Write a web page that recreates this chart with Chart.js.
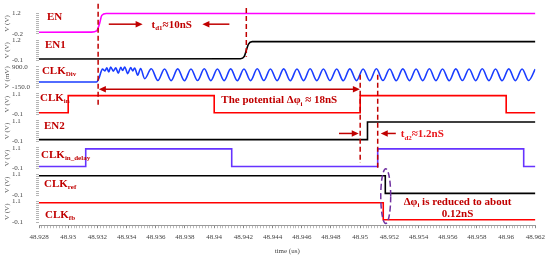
<!DOCTYPE html>
<html><head><meta charset="utf-8">
<script src="https://cdn.jsdelivr.net/npm/chart.js@4.4.0/dist/chart.umd.min.js"></script>
<style>html,body{margin:0;padding:0;background:#fff;overflow:hidden}</style>
</head><body>
<canvas id="c" width="550" height="256"></canvas>
<script>
// ---------- axes / tick labels ----------
const T0 = 48.928, T1 = 48.962;
const xTickLabels = ['48.928','48.93','48.932','48.934','48.936','48.938','48.94','48.942','48.944','48.946','48.948','48.95','48.952','48.954','48.956','48.958','48.96','48.962'];
const panelIds  = ['yFB','yREF','yDLY','yEN2','yIN','yDIV','yEN1','yEN']; // bottom -> top
const panelLo   = [-0.1,-0.1,-0.1,-0.1,-0.1,-150,-0.1,-0.2];
const panelHi   = [1.1, 1.1, 1.1, 1.1, 1.1, 900, 1.2, 1.2];
const panelUnit = ['V (V)','V (V)','V (V)','V (V)','V (V)','V (mV)','V (V)','V (V)'];

// ---------- series ----------
const enT = [48.928, 48.9316, 48.93195, 48.93215, 48.9323, 48.9326, 48.962];
const enV = [-0.1, -0.09, 0.0, 0.5, 1.05, 1.18, 1.18];

const en1T = [48.928, 48.9418, 48.94205, 48.9422, 48.94235, 48.9426, 48.962];
const en1V = [0.0, 0.02, 0.15, 0.55, 0.95, 1.1, 1.1];

const divT = [48.928, 48.93195, 48.9321, 48.93235,
  48.93251, 48.93265, 48.93278, 48.93291, 48.93309, 48.93326, 48.93343, 48.93360, 48.93373, 48.93387,
  48.93408, 48.93428, 48.93442, 48.93455, 48.93476, 48.93496, 48.93524,
  48.93569, 48.93614, 48.93660, 48.93705, 48.93750, 48.93796, 48.93841, 48.93886, 48.93932, 48.93977,
  48.94022, 48.94068, 48.94113, 48.94158, 48.94204, 48.94249, 48.94295, 48.94340, 48.94385, 48.94431,
  48.94476, 48.94521, 48.94567, 48.94612, 48.94657, 48.94703, 48.94748, 48.94793, 48.94839, 48.94884,
  48.94929, 48.94975, 48.95020, 48.95065, 48.95111, 48.95156, 48.95202, 48.95247, 48.95292, 48.95338,
  48.95383, 48.95428, 48.95474, 48.95519, 48.95564, 48.95610, 48.95655, 48.95700, 48.95746, 48.95791,
  48.95836, 48.95882, 48.95927, 48.95972, 48.96018, 48.96063, 48.96109, 48.96154, 48.96199];
const divV = [130, 130, 320, 790,
  700, 860, 640, 900, 690, 860, 580, 880, 720, 900,
  560, 870, 700, 850, 480, 820, 300,
  810, 210, 800, 200, 805, 195, 800, 205, 810, 200,
  800, 200, 805, 195, 800, 200, 810, 205, 800, 200,
  805, 195, 800, 200, 810, 200, 800, 205, 800, 195,
  805, 200, 800, 200, 810, 205, 800, 195, 805, 200,
  800, 200, 810, 200, 800, 195, 805, 205, 800, 200,
  810, 200, 800, 195, 805, 200, 800, 205, 790];

const inT  = [48.928, 48.930, 48.940, 48.950, 48.960, 48.962];
const inV  = [0.0, 1.0, 0.0, 1.0, 0.0, 0.0];

const en2T = [48.928, 48.9505, 48.962];
const en2V = [0.0, 1.03, 1.03];

const dlyT = [48.928, 48.9312, 48.9412, 48.9512, 48.9612, 48.962];
const dlyV = [0.0, 1.03, 0.0, 1.03, 0.0, 0.0];

const refT = [48.928, 48.95172, 48.962];
const refV = [1.03, 0.0, 0.0];

const fbT  = [48.928, 48.95158, 48.962];
const fbV  = [1.03, 0.03, 0.03];

// ---------- labels / annotations ----------
const seriesLabels = [
  {id:'yEN',  t:48.92855, v:1.0,  parts:[['EN',0]]},
  {id:'yEN1', t:48.92841, v:0.92, parts:[['EN1',0]]},
  {id:'yDIV', t:48.9282,  v:750,  parts:[['CLK',0],['Div',1]]},
  {id:'yIN',  t:48.92807, v:0.9,  parts:[['CLK',0],['in',1]]},
  {id:'yEN2', t:48.92834, v:0.81, parts:[['EN2',0]]},
  {id:'yDLY', t:48.92814, v:0.73, parts:[['CLK',0],['in_delay',1]]},
  {id:'yREF', t:48.92834, v:0.59, parts:[['CLK',0],['ref',1]]},
  {id:'yFB',  t:48.92841, v:0.36, parts:[['CLK',0],['fb',1]]}
];

const pts = (t, v) => t.map((x, i) => ({x: x, y: v[i]}));
const SERIF = '"Liberation Serif", "Times New Roman", serif';
const DARKRED = '#c00000';

function drawRich(ctx, parts, x, yc, size, color, align) {
  const main = 'bold ' + size + 'px ' + SERIF;
  const sub = 'bold ' + Math.round(size * 0.66) + 'px ' + SERIF;
  let w = 0;
  for (const [s, isSub] of parts) { ctx.font = isSub ? sub : main; w += ctx.measureText(s).width; }
  let cx = align === 'center' ? x - w / 2 : x;
  const base = yc + size * 0.34;
  ctx.fillStyle = color; ctx.textAlign = 'left'; ctx.textBaseline = 'alphabetic';
  for (const [s, isSub] of parts) {
    ctx.font = isSub ? sub : main;
    ctx.fillText(s, cx, isSub ? base + size * 0.22 : base);
    cx += ctx.measureText(s).width;
  }
}
function head(ctx, x, y, dir) {
  ctx.beginPath();
  ctx.moveTo(x, y);
  ctx.lineTo(x - dir * 7, y - 3.2);
  ctx.lineTo(x - dir * 7, y + 3.2);
  ctx.closePath(); ctx.fill();
}
function arrow(ctx, x1, y, x2, color, both) {
  const dir = Math.sign(x2 - x1);
  ctx.save();
  ctx.strokeStyle = color; ctx.fillStyle = color; ctx.lineWidth = 1.5; ctx.setLineDash([]);
  ctx.beginPath(); ctx.moveTo(both ? x1 + dir * 5 : x1, y); ctx.lineTo(x2 - dir * 5, y); ctx.stroke();
  head(ctx, x2, y, dir);
  if (both) head(ctx, x1, y, -dir);
  ctx.restore();
}
function vdash(ctx, x, y1, y2, color) {
  ctx.save();
  ctx.strokeStyle = color; ctx.lineWidth = 1.5; ctx.setLineDash([5, 3]);
  ctx.beginPath(); ctx.moveTo(x, y1); ctx.lineTo(x, y2); ctx.stroke();
  ctx.restore();
}

const annot = {
  id: 'annot',
  afterDatasetsDraw(chart) {
    const ctx = chart.ctx;
    const X = t => chart.scales.x.getPixelForValue(t);
    const Y = (id, v) => chart.scales[id].getPixelForValue(v);

    // y-axis unit titles
    ctx.save();
    ctx.fillStyle = '#555'; ctx.font = '7px ' + SERIF; ctx.textAlign = 'center'; ctx.textBaseline = 'middle';
    panelIds.forEach((id, i) => {
      const cy = (Y(id, panelLo[i]) + Y(id, panelHi[i])) / 2;
      ctx.save(); ctx.translate(7, cy); ctx.rotate(-Math.PI / 2); ctx.fillText(panelUnit[i], 0, 0); ctx.restore();
    });
    ctx.restore();

    // series labels
    seriesLabels.forEach(l => drawRich(ctx, l.parts, X(l.t), Y(l.id, l.v), 11, DARKRED, 'left'));

    // vertical dashed markers
    vdash(ctx, X(48.93205), Y('yEN', 1.85), Y('yIN', 0.35), DARKRED);
    vdash(ctx, X(48.9422),  Y('yEN', 1.55), Y('yEN1', 0.15), DARKRED);
    vdash(ctx, X(48.9500),  Y('yDIV', 500), Y('yDLY', 0.2), DARKRED);
    vdash(ctx, X(48.9512),  Y('yDIV', 500), Y('yDLY', -0.15), DARKRED);

    // td1
    const yA = Y('yEN', 0.45);
    arrow(ctx, X(48.93278), yA, X(48.93510), DARKRED, false);
    arrow(ctx, X(48.94104), yA, X(48.93919), DARKRED, false);
    drawRich(ctx, [['t',0],['d1',1],['\u224810nS',0]], X(48.93571), yA, 11, DARKRED, 'left');

    // potential
    arrow(ctx, X(48.93210), Y('yIN', 1.37), X(48.94998), DARKRED, true);
    drawRich(ctx, [['The potential \u0394\u03c6',0],['i',1],[' \u2248 18nS',0]], X(48.94049), Y('yIN', 0.76), 11, DARKRED, 'left');

    // td2
    const yB = Y('yEN2', 0.36);
    arrow(ctx, X(48.94855), yB, X(48.94990), DARKRED, false);
    arrow(ctx, X(48.95244), yB, X(48.95141), DARKRED, false);
    drawRich(ctx, [['t',0],['d2',1],['\u22481.2nS',0]], X(48.95278), yB, 11, '#e8161b', 'left');

    // ellipse
    const ey1 = Y('yREF', 1.44), ey2 = Y('yFB', -0.19);
    const ex1 = X(48.95141), ex2 = X(48.95209);
    ctx.save();
    ctx.strokeStyle = '#7030a0'; ctx.lineWidth = 1.5; ctx.setLineDash([6, 3]);
    ctx.beginPath(); ctx.ellipse((ex1 + ex2) / 2, (ey1 + ey2) / 2, (ex2 - ex1) / 2, (ey2 - ey1) / 2, 0, 0, Math.PI * 2); ctx.stroke();
    ctx.restore();

    drawRich(ctx, [['\u0394\u03c6',0],['i',1],[' is reduced to about',0]], X(48.95667), Y('yFB', 1.13), 11, DARKRED, 'center');
    drawRich(ctx, [['0.12nS',0]], X(48.95667), Y('yFB', 0.39), 11, DARKRED, 'center');
  }
};

// ---------- scales ----------
const PAD = 0.155;
const scales = {
  x: {
    type: 'linear', position: 'bottom', min: T0, max: T1,
    afterBuildTicks: s => { const a = []; for (let i = 0; i <= 170; i++) a.push({value: T0 + i * 0.0002}); s.ticks = a; },
    ticks: {autoSkip: false, maxRotation: 0, minRotation: 0, padding: 5, color: '#444',
      font: {family: SERIF, size: 7},
      callback: (v, i) => (i % 10 === 0 ? xTickLabels[i / 10] : '')},
    grid: {drawOnChartArea: false, drawTicks: true, tickLength: 3,
      tickColor: c => (c.index % 10 === 0 ? '#666' : '#aaa'), tickWidth: 0.8},
    border: {display: true, color: '#999', width: 1},
    title: {display: true, text: 'time (us)', color: '#444', font: {family: SERIF, size: 7}, padding: {top: 0, bottom: 1}}
  }
};
panelIds.forEach((id, i) => {
  const lo = panelLo[i], hi = panelHi[i], r = hi - lo;
  scales[id] = {
    type: 'linear', position: 'left', stack: 'wave', stackWeight: 1,
    min: lo - r * PAD, max: hi + r * PAD,
    afterBuildTicks: s => { const a = []; for (let k = 0; k <= 10; k++) a.push({value: lo + r * k / 10}); s.ticks = a; },
    afterFit: s => { s.width = 27; },
    ticks: {autoSkip: false, crossAlign: 'far', padding: 2, color: '#444',
      font: {family: SERIF, size: 7},
      callback: (v, k) => (k === 0 ? lo.toFixed(1) : (k === 10 ? hi.toFixed(1) : ''))},
    grid: {drawOnChartArea: false, drawTicks: true, tickLength: 3, tickColor: '#a0a0a0', tickWidth: 0.8},
    border: {display: false}
  };
});

const ds = (label, t, v, id, color, stepped) => ({
  label, data: pts(t, v), yAxisID: id, borderColor: color, borderWidth: 1.6,
  pointRadius: 0, fill: false, stepped: stepped ? true : false,
  cubicInterpolationMode: stepped ? 'default' : 'monotone'
});

new Chart(document.getElementById('c'), {
  type: 'line',
  data: {
    datasets: [
      ds('EN', enT, enV, 'yEN', '#ff00ff', false),
      ds('EN1', en1T, en1V, 'yEN1', '#000000', false),
      ds('CLKDiv', divT, divV, 'yDIV', '#1a3dff', false),
      ds('CLKin', inT, inV, 'yIN', '#ff0000', true),
      ds('EN2', en2T, en2V, 'yEN2', '#000000', true),
      ds('CLKin_delay', dlyT, dlyV, 'yDLY', '#6633ff', true),
      ds('CLKref', refT, refV, 'yREF', '#000000', true),
      ds('CLKfb', fbT, fbV, 'yFB', '#ff0000', true)
    ]
  },
  options: {
    responsive: false, animation: false, devicePixelRatio: 1,
    layout: {padding: {top: 10, left: 12, right: 11, bottom: 0}},
    plugins: {legend: {display: false}, tooltip: {enabled: false}},
    scales: scales
  },
  plugins: [annot]
});
</script>
</body></html>
